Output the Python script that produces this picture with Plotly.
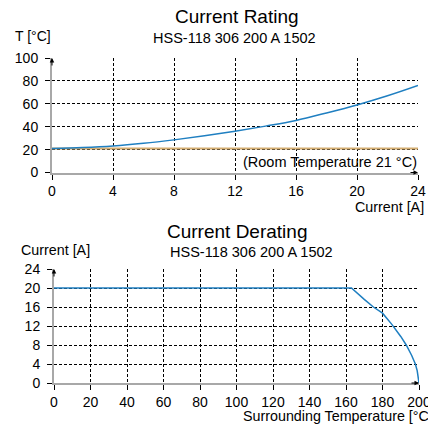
import plotly.graph_objects as go

# ---- data: Current Rating ----
rating_current = [0, 2, 4, 6, 8, 10, 12, 14, 16, 18, 20, 22, 24]
rating_temp = [21, 21.8, 23.2, 25.5, 28.5, 32, 36, 40.5, 45.5, 52, 59, 67, 76]
room_temp = 21
rating_xticks = [0, 4, 8, 12, 16, 20, 24]
rating_yticks = [0, 20, 40, 60, 80, 100]

# ---- data: Current Derating ----
derating_temp = [0, 163, 170, 175, 180, 185, 190, 193, 196, 198, 199, 200]
derating_current = [20, 20, 17.6, 16, 14.7, 12.4, 9.8, 8, 5.8, 4, 2.6, 0]
derating_xticks = [0, 20, 40, 60, 80, 100, 120, 140, 160, 180, 200]
derating_yticks = [0, 4, 8, 12, 16, 20, 24]

W, H = 428, 429
FONT = "Arial, Liberation Sans, sans-serif"
BLUE = "#1f7fc1"
TAN = "#d4ae72"
AXIS = "#a8a8a8"


def px(x):
    return x / W


def py(y):
    return 1 - y / H


fig = go.Figure()
fig.add_trace(go.Scatter(x=[rating_current[0], rating_current[-1]], y=[room_temp, room_temp],
                         mode="lines", line=dict(color=TAN, width=2), xaxis="x", yaxis="y",
                         showlegend=False, hoverinfo="skip"))
fig.add_trace(go.Scatter(x=rating_current, y=rating_temp, mode="lines", line=dict(color=BLUE, width=1.5, shape="spline"),
                         xaxis="x", yaxis="y", showlegend=False, cliponaxis=False))
fig.add_trace(go.Scatter(x=derating_temp, y=derating_current, mode="lines", line=dict(color=BLUE, width=1.5),
                         xaxis="x2", yaxis="y2", showlegend=False, cliponaxis=False))

common = dict(showgrid=True, gridcolor="black", griddash="3px,2px", gridwidth=1,
              showline=True, linecolor=AXIS, linewidth=2, zeroline=False, automargin=False,
              ticks="outside", ticklen=5, tickcolor="black", tickwidth=1, ticklabeloverflow="allow",
              tickfont=dict(family=FONT, size=14, color="black"), fixedrange=True)

fig.update_layout(
    template="none",
    width=W, height=H, margin=dict(l=0, r=0, t=0, b=0, autoexpand=False),
    paper_bgcolor="white", plot_bgcolor="white",
    font=dict(family=FONT, color="black"),
    xaxis=dict(domain=[px(52), px(418)], range=[0, 24], tickvals=rating_xticks, anchor="y", **common),
    yaxis=dict(domain=[py(172.5), py(58)], range=[0, 100], tickvals=rating_yticks, anchor="x",
               ticklabelstandoff=4, **common),
    xaxis2=dict(domain=[px(54), px(419)], range=[0, 200], tickvals=derating_xticks, anchor="y2", **common),
    yaxis2=dict(domain=[py(383), py(269)], range=[0, 24], tickvals=derating_yticks, anchor="x2",
                ticklabelstandoff=4, **common),
)


def txt(text, x, y, size, xanchor="center"):
    fig.add_annotation(text=text, x=px(x), y=py(y), xref="paper", yref="paper",
                       xanchor=xanchor, yanchor="middle", showarrow=False,
                       font=dict(family=FONT, size=size, color="black"))


txt("Current Rating", 237, 17, 19)
txt("HSS-118 306 200 A 1502", 234, 38, 14.5)
txt("T [°C]", 13, 36, 14, "left")
txt("(Room Temperature 21 °C)", 419, 162, 14.5, "right")
txt("Current [A]", 426, 207, 14.3, "right")

txt("Current Derating", 237, 231, 19)
txt("HSS-118 306 200 A 1502", 252, 252, 14.5)
txt("Current [A]", 19, 250, 14.3, "left")
txt("Surrounding Temperature [°C]", 241, 416, 14.3, "left")

# axis-end arrows
for xr, yr, xv, yv, ax, ay in [("x", "y", 0, 100, 0, 9), ("x", "y", 24, 0, -9, 0),
                               ("x2", "y2", 0, 24, 0, 9), ("x2", "y2", 200, 0, -9, 0)]:
    fig.add_annotation(x=xv, y=yv, xref=xr, yref=yr, ax=ax, ay=ay, axref="pixel", ayref="pixel",
                       showarrow=True, arrowhead=2, arrowsize=0.9, arrowwidth=1, arrowcolor="black", text="")

fig.write_html("out.html", config={"displayModeBar": False},
               post_script="document.body.style.margin='0';document.body.style.overflow='hidden';")
